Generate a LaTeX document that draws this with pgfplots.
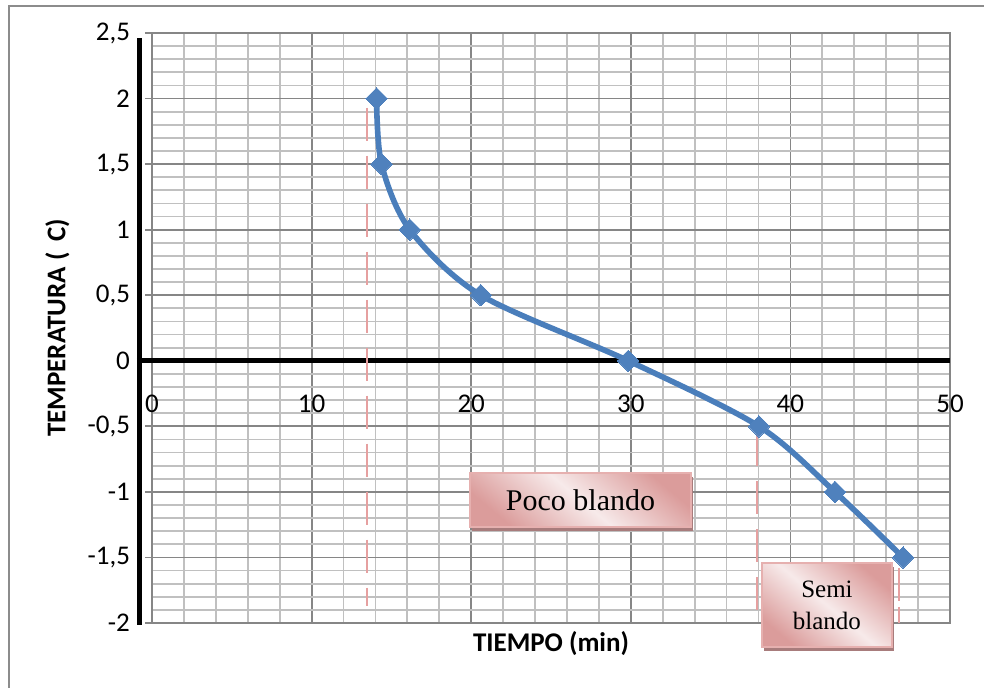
\documentclass[border=0pt]{standalone}
\usepackage{pgfplots}
\pgfplotsset{compat=1.18}
\usepackage{fontspec}
\setmainfont{Carlito}
\newfontfamily\timesf{Liberation Serif}
\definecolor{majgrid}{HTML}{868686}
\definecolor{mingrid}{HTML}{C0C0C0}
\definecolor{framec}{HTML}{8C8C8C}
\definecolor{serie}{HTML}{4A7EBB}
\definecolor{markc}{HTML}{4F81BD}
\definecolor{dashc}{HTML}{E6A0A0}
\definecolor{pinkdark}{HTML}{DB9C9B}
\definecolor{pinklight}{HTML}{F7EAEA}
\definecolor{pinkborder}{HTML}{E6B0AF}
\definecolor{shadowc}{HTML}{A87C7C}
\begin{document}
\begin{tikzpicture}
\useasboundingbox (0,0) rectangle (492pt,344pt);
\draw[framec, line width=0.8pt] (4.5pt,-1pt) -- (4.5pt,341pt) -- (493pt,341pt);
\begin{axis}[
  at={(76pt,32.5pt)}, anchor=south west,
  scale only axis, width=399pt, height=295pt,
  xmin=0, xmax=50, ymin=-2, ymax=2.5,
  clip=false,
  xtick={0,10,...,50}, xticklabels={0,10,20,30,40,50},
  ytick={-2,-1.5,...,2.5}, yticklabels={-2,{-1,5},-1,{-0,5},0,{0,5},1,{1,5},2,{2,5}},
  minor x tick num=4, minor y tick num=4,
  grid=both,
  major grid style={majgrid, line width=0.9pt},
  minor grid style={mingrid, line width=0.9pt},
  axis line style={majgrid, line width=0.9pt},
  tick style={majgrid, line width=0.9pt},
  tick align=outside,
  major tick length=3.5pt, minor tick length=0pt,
  xtick style={draw=none},
  ytick pos=left, xtick pos=left,
  xticklabel style={anchor=center, yshift=113pt, font=\fontsize{13.5}{15}\selectfont},
  yticklabel style={xshift=-4pt, font=\fontsize{13.5}{15}\selectfont},
  xlabel={TIEMPO (min)},
  xlabel style={at={(axis description cs:0.5,-0.0356)}, anchor=center, font=\bfseries\fontsize{13.5}{15}\selectfont},
  ylabel={TEMPERATURA ( \,C)},
  ylabel style={at={(axis description cs:-0.1184,0.5)}, anchor=center, font=\bfseries\fontsize{13.5}{15}\selectfont},
]
\draw[black, line width=2.5pt] (axis cs:-0.81,-2.015) -- (axis cs:-0.81,2.46);
\draw[black, line width=2.5pt] (axis cs:-0.95,0) -- (axis cs:50,0);
\draw[dashc, line width=1pt, dash pattern=on 16.5pt off 7.5pt] (axis cs:13.47,1.93) -- (axis cs:13.47,-1.87);
\draw[dashc, line width=1pt, dash pattern=on 16.5pt off 7.5pt] (axis cs:37.9,-0.55) -- (axis cs:37.9,-2.0);
\draw[dashc, line width=1pt, dash pattern=on 16.5pt off 3pt] (axis cs:46.8,-1.58) -- (axis cs:46.8,-2.0);
\addplot[serie, line width=2.8pt, smooth, tension=0.5, mark=square*, mark size=3.8pt,
  mark options={rotate=45, fill=markc, draw=markc, line width=0pt}]
  coordinates {(14.07,2)(14.38,1.5)(16.15,1)(20.6,0.5)(29.84,0)(38.03,-0.5)(42.79,-1)(47.06,-1.5)};
\node[fill=shadowc, minimum width=110.5pt, minimum height=27pt, inner sep=0pt] at ([xshift=1pt,yshift=-2pt]axis cs:26.85,-1.061) {};
\node[draw=pinkborder, line width=0.8pt, top color=pinkdark, bottom color=pinkdark, middle color=pinklight, shading angle=-40, minimum width=110.5pt, minimum height=27pt, inner sep=0pt, font=\timesf\fontsize{15}{18}\selectfont] at (axis cs:26.85,-1.061) {Poco blando};
\node[fill=shadowc, minimum width=65pt, minimum height=42pt, inner sep=0pt] at ([xshift=1pt,yshift=-2pt]axis cs:42.29,-1.863) {};
\node[draw=pinkborder, line width=0.8pt, top color=pinkdark, bottom color=pinkdark, middle color=pinklight, shading angle=-40, minimum width=65pt, minimum height=42pt, inner sep=0pt, align=center, font=\timesf\fontsize{12.5}{16}\selectfont] at (axis cs:42.29,-1.863) {Semi\\blando};
\end{axis}
\end{tikzpicture}
\end{document}
